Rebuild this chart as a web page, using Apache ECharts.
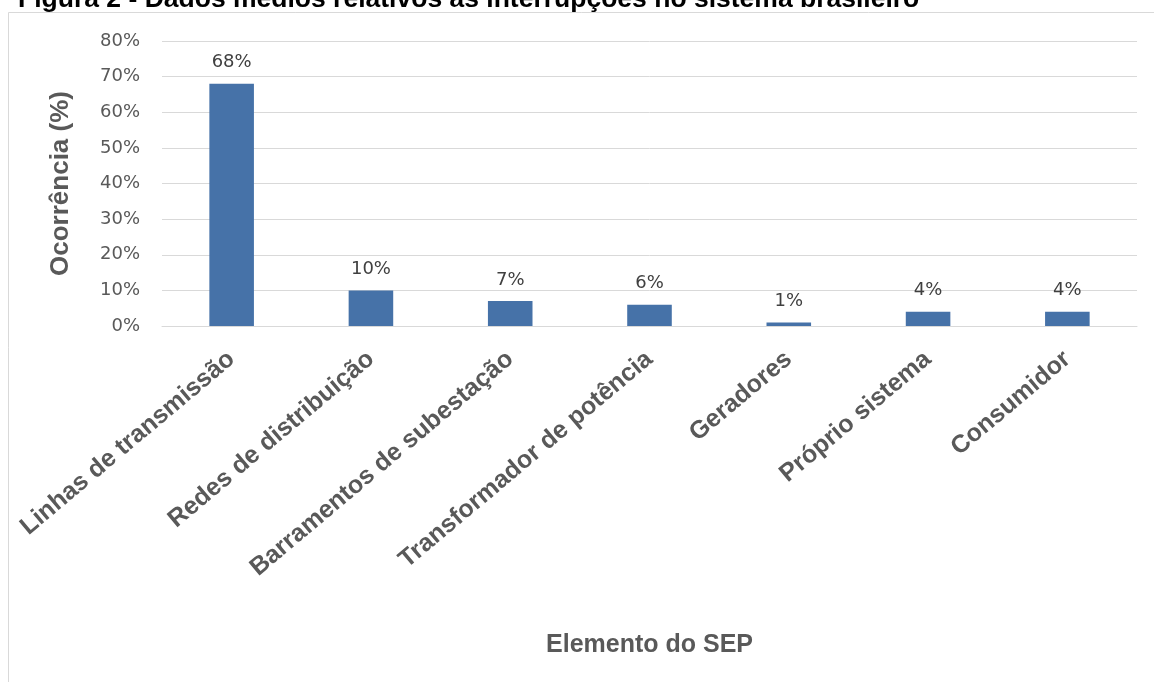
<!DOCTYPE html>
<html>
<head>
<meta charset="utf-8">
<script src="https://cdn.jsdelivr.net/npm/echarts@6/dist/echarts.min.js"></script>
<style>html,body{margin:0;padding:0;background:#fff;}#chart{width:1154px;height:682px;}</style>
</head>
<body>
<div id="chart"></div>
<script>
const titleText = 'Figura 2 - Dados médios relativos às interrupções no sistema brasileiro';
const categories = ['Linhas de transmissão', 'Redes de distribuição', 'Barramentos de subestação', 'Transformador de potência', 'Geradores', 'Próprio sistema', 'Consumidor'];
const values = [68, 10, 7, 6, 1, 4, 4];
const xAxisTitle = 'Elemento do SEP';
const yAxisTitle = 'Ocorrência (%)';

const chart = echarts.init(document.getElementById('chart'));
chart.setOption({
  animation: false,
  backgroundColor: '#fff',
  graphic: [
    { type: 'rect', shape: { x: 8.5, y: 12.5, width: 1300, height: 800 }, style: { fill: 'none', stroke: '#d9d9d9', lineWidth: 1 }, z: 0 },
    { type: 'text', left: 18, top: -14, style: { text: titleText, font: 'bold 26.5px "Liberation Sans", Arial, sans-serif', fill: '#000' } }
  ],
  grid: { left: 162, right: 17, top: 41, bottom: 356 },
  xAxis: {
    type: 'category',
    data: categories,
    axisLine: { lineStyle: { color: '#d9d9d9', width: 1 } },
    axisTick: { show: false },
    axisLabel: { rotate: 40, margin: 30, color: '#595959', fontFamily: '"Liberation Sans", Arial, sans-serif', fontWeight: 'bold', fontSize: 25, interval: 0 },
    name: xAxisTitle,
    nameLocation: 'middle',
    nameGap: 307,
    nameTextStyle: { color: '#595959', fontFamily: '"Liberation Sans", Arial, sans-serif', fontWeight: 'bold', fontSize: 25 }
  },
  yAxis: {
    type: 'value',
    min: 0, max: 80, interval: 10,
    axisLine: { show: false },
    axisTick: { show: false },
    splitLine: { lineStyle: { color: '#d9d9d9', width: 1 } },
    axisLabel: { formatter: '{value}%', margin: 22, color: '#595959', fontFamily: '"DejaVu Sans", sans-serif', fontSize: 18 },
    name: yAxisTitle,
    nameLocation: 'middle',
    nameGap: 88,
    nameRotate: 90,
    nameTextStyle: { color: '#595959', fontFamily: '"Liberation Sans", Arial, sans-serif', fontWeight: 'bold', fontSize: 26 }
  },
  series: [{
    type: 'bar',
    data: values,
    barWidth: '32%',
    itemStyle: { color: '#4672a8' },
    label: { show: true, position: 'top', distance: 12, formatter: '{c}%', color: '#404040', fontFamily: '"DejaVu Sans", sans-serif', fontSize: 18 }
  }]
});
</script>
</body>
</html>
